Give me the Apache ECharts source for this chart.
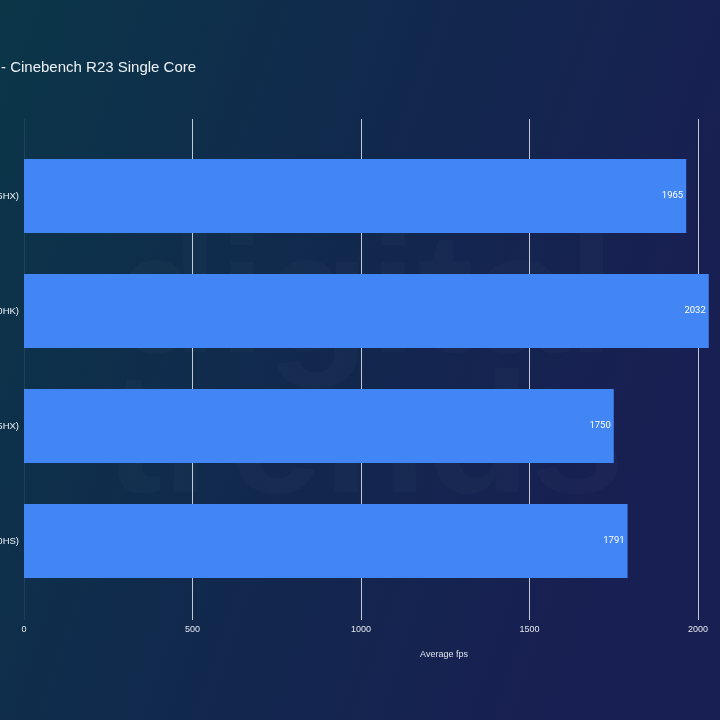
<!DOCTYPE html>
<html>
<head>
<meta charset="utf-8">
<script src="https://cdn.jsdelivr.net/npm/echarts@6/dist/echarts.min.js"></script>
<style>html,body{margin:0;padding:0;background:#0f2a4c;}#c{width:720px;height:720px;}</style>
</head>
<body>
<div id="c"></div>
<script>
const titleText = '- Cinebench R23 Single Core';
const categories = ['Core i9-13905HX (i9-13905HX)', 'Core i9-12900HK (i9-12900HK)', 'Ryzen 9 7845HX (R9 7845HX)', 'Ryzen 9 6900HS (R9 6900HS)'];
const values = [1965, 2032, 1750, 1791];
const xTicks = [0, 500, 1000, 1500, 2000];
const axisName = 'Average fps';

const chart = echarts.init(document.getElementById('c'), null, {renderer: 'canvas'});
const font = 'Liberation Sans, Arial, sans-serif';
chart.setOption({
  backgroundColor: {
    type: 'linear', x: 0, y: 0, x2: 1, y2: 0.35,
    colorStops: [
      {offset: 0, color: '#0b3648'},
      {offset: 0.5, color: '#11294d'},
      {offset: 1, color: '#181f52'}
    ]
  },
  animation: false,
  title: {
    text: titleText, left: 1, top: 60, padding: 0,
    textStyle: {color: '#eef2f6', fontSize: 15, fontWeight: 'normal', fontFamily: font}
  },
  graphic: [
    {type: 'text', x: 365, y: 305, silent: true, z: -1,
     style: {text: 'digital', textAlign: 'center', textVerticalAlign: 'middle', fill: 'rgba(255,255,255,0.018)', font: 'bold 170px ' + font}},
    {type: 'text', x: 365, y: 445, silent: true, z: -1,
     style: {text: 'trends', textAlign: 'center', textVerticalAlign: 'middle', fill: 'rgba(255,255,255,0.018)', font: 'bold 170px ' + font}},
    {type: 'text', x: 444, y: 655,
     style: {text: axisName, textAlign: 'center', textVerticalAlign: 'middle', fill: '#dfe4ec', font: '9px ' + font}}
  ],
  grid: [
    {left: 24, right: 22, top: 119, bottom: 100, containLabel: false, outerBoundsMode: 'none'},
    {left: 24, right: 22, top: 138.5, height: 460, containLabel: false, outerBoundsMode: 'none'}
  ],
  xAxis: [
    {gridIndex: 0, type: 'value', min: xTicks[0], max: xTicks[xTicks.length - 1], interval: 500,
     axisLine: {show: false}, axisTick: {show: false},
     axisLabel: {color: '#e4e8ee', fontSize: 9, margin: 5, fontFamily: font, formatter: v => String(v)},
     splitLine: {show: true, lineStyle: {color: ['rgba(255,255,255,0.08)', 'rgba(255,255,255,0.75)', 'rgba(255,255,255,0.75)', 'rgba(255,255,255,0.75)', 'rgba(255,255,255,0.75)'], width: 1}}},
    {gridIndex: 1, type: 'value', min: xTicks[0], max: xTicks[xTicks.length - 1],
     show: false}
  ],
  yAxis: [
    {gridIndex: 0, type: 'value', show: false},
    {gridIndex: 1, type: 'category', data: categories, inverse: true,
     axisLine: {show: false}, axisTick: {show: false},
     axisLabel: {color: '#eef2f6', fontSize: 9.5, margin: 5, fontFamily: font},
     splitLine: {show: false}}
  ],
  series: [{
    type: 'bar', xAxisIndex: 1, yAxisIndex: 1, data: values,
    barWidth: '64.5%', clip: false,
    itemStyle: {color: '#4285f4'},
    label: {show: true, position: 'insideRight', distance: 3, color: '#ffffff', fontSize: 9.5, fontFamily: 'Roboto, ' + font}
  }]
});
</script>
</body>
</html>
